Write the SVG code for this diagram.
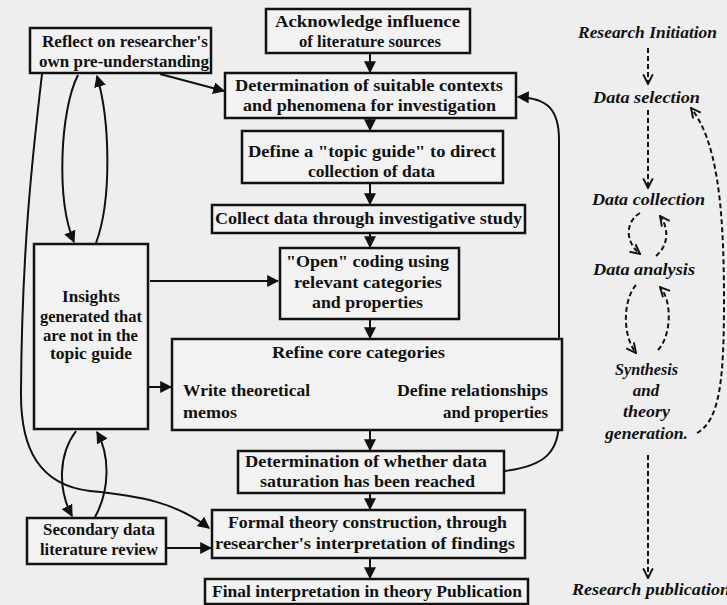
<svg xmlns="http://www.w3.org/2000/svg" width="727" height="605" viewBox="0 0 727 605">
<style>
.bg{fill:#eeeeee}
.box{fill:#f2f2f2;stroke:#111;stroke-width:2.5}
.t{font-family:"Liberation Serif","Times New Roman",serif;font-size:17px;font-weight:bold;fill:#111;text-anchor:middle}
.r{font-family:"Liberation Serif","Times New Roman",serif;font-size:17px;font-weight:bold;font-style:italic;fill:#111;text-anchor:middle}
.ln{fill:none;stroke:#111;stroke-width:2}
.dl{fill:none;stroke:#111;stroke-width:2;stroke-dasharray:5,3}
</style>
<defs>
<marker id="a" viewBox="0 0 10 10" refX="9" refY="5" markerWidth="6" markerHeight="6" orient="auto" markerUnits="strokeWidth">
<path d="M0,0 L10,5 L0,10 z" fill="#111"/>
</marker>
<marker id="as" viewBox="0 0 10 10" refX="1" refY="5" markerWidth="6" markerHeight="6" orient="auto-start-reverse" markerUnits="strokeWidth">
<path d="M0,0 L10,5 L0,10 z" fill="#111"/>
</marker>
<marker id="c" viewBox="0 0 10 10" refX="9" refY="5" markerWidth="6" markerHeight="6" orient="auto" markerUnits="strokeWidth">
<path d="M1,1 L9,5 L1,9" fill="none" stroke="#111" stroke-width="1.6"/>
</marker>
</defs>
<rect class="bg" x="0" y="0" width="727" height="605"/>

<g id="connectors">
<path class="ln" d="M370,53 L370,72" marker-end="url(#a)"/>
<path class="ln" d="M370,118 L370,130" marker-end="url(#a)"/>
<path class="ln" d="M370,183 L370,204" marker-end="url(#a)"/>
<path class="ln" d="M370,233 L370,247" marker-end="url(#a)"/>
<path class="ln" d="M370,319 L370,338" marker-end="url(#a)"/>
<path class="ln" d="M370,430 L370,450" marker-end="url(#a)"/>
<path class="ln" d="M370,493 L370,509" marker-end="url(#a)"/>
<path class="ln" d="M370,558 L370,578" marker-end="url(#a)"/>
<path class="ln" d="M160,74 L224,91" marker-end="url(#a)"/>
<path class="ln" d="M42,74 C32,160 22,250 21,390 C20,450 40,485 90,491 C140,496 175,502 209,528" marker-end="url(#a)"/>
<path class="ln" d="M78,75 C60,110 56,200 74,242" marker-end="url(#a)"/>
<path class="ln" d="M96,243 C112,200 110,120 97,76" marker-end="url(#a)"/>
<path class="ln" d="M76,431 C58,455 58,490 72,516" marker-end="url(#a)"/>
<path class="ln" d="M95,517 C110,490 110,455 97,432" marker-end="url(#a)"/>
<path class="ln" d="M150,281 L278,281" marker-end="url(#a)"/>
<path class="ln" d="M149,387 L171,387" marker-end="url(#a)"/>
<path class="ln" d="M166,548 L211,548" marker-end="url(#a)"/>
<path class="ln" d="M505,471 C545,466 559,452 559,420 L559,140 C559,110 548,98 518,97" marker-end="url(#a)"/>
<path class="ln" d="M265,355 L218,382" marker-start="url(#as)" marker-end="url(#a)"/>
<path class="ln" d="M448,357 L495,383" marker-start="url(#as)" marker-end="url(#a)"/>
<path class="ln" d="M258,413 L433,413" marker-start="url(#as)" marker-end="url(#a)"/>
<path class="dl" d="M648,48 L648,84" marker-end="url(#c)"/>
<path class="dl" d="M648,110 L648,188" marker-end="url(#c)"/>
<path class="dl" d="M640,213 C625,222 625,242 640,254" marker-end="url(#c)"/>
<path class="dl" d="M656,256 C669,245 669,228 660,216" marker-end="url(#c)"/>
<path class="dl" d="M636,285 C623,300 622,335 636,353" marker-end="url(#c)"/>
<path class="dl" d="M658,350 C672,335 672,300 660,287" marker-end="url(#c)"/>
<path class="dl" d="M697,433 C720,420 724,380 724,300 C724,200 716,140 691,108" marker-end="url(#c)"/>
<path class="dl" d="M648,455 L648,578" marker-end="url(#c)"/>
</g>

<g id="reflect"><rect class="box" x="30" y="28" width="181" height="45"/>
<text class="t" x="125" y="47" textLength="166" lengthAdjust="spacingAndGlyphs">Reflect on researcher's</text>
<text class="t" x="124" y="67" textLength="170" lengthAdjust="spacingAndGlyphs">own pre-understanding</text></g>

<g id="acknowledge"><rect class="box" x="266" y="9" width="204" height="44"/>
<text class="t" x="367.5" y="27" textLength="185" lengthAdjust="spacingAndGlyphs">Acknowledge influence</text>
<text class="t" x="370" y="47" textLength="142" lengthAdjust="spacingAndGlyphs">of literature sources</text></g>

<g id="determination"><rect class="box" x="225" y="73" width="291" height="45"/>
<text class="t" x="369" y="91" textLength="268" lengthAdjust="spacingAndGlyphs">Determination of suitable contexts</text>
<text class="t" x="369.5" y="111" textLength="253" lengthAdjust="spacingAndGlyphs">and phenomena for investigation</text></g>

<g id="topicguide"><rect class="box" x="242" y="131" width="261" height="52"/>
<text class="t" x="372" y="157" textLength="248" lengthAdjust="spacingAndGlyphs">Define a "topic guide" to direct</text>
<text class="t" x="371.5" y="177" textLength="127" lengthAdjust="spacingAndGlyphs">collection of data</text></g>

<g id="collect"><rect class="box" x="212" y="205" width="313" height="28"/>
<text class="t" x="368.5" y="224" textLength="307" lengthAdjust="spacingAndGlyphs">Collect data through investigative study</text></g>

<g id="opencoding"><rect class="box" x="280" y="248" width="179" height="71"/>
<text class="t" x="367.5" y="267" textLength="163" lengthAdjust="spacingAndGlyphs">"Open" coding using</text>
<text class="t" x="368" y="288" textLength="148" lengthAdjust="spacingAndGlyphs">relevant categories</text>
<text class="t" x="367.5" y="308" textLength="111" lengthAdjust="spacingAndGlyphs">and properties</text></g>

<g id="refine"><rect class="box" x="172" y="339" width="390" height="91"/>
<text class="t" x="358.5" y="358" textLength="173" lengthAdjust="spacingAndGlyphs">Refine core categories</text>
<text class="t" x="183" y="396" style="text-anchor:start" textLength="127" lengthAdjust="spacingAndGlyphs">Write theoretical</text>
<text class="t" x="183" y="418" style="text-anchor:start" textLength="54" lengthAdjust="spacingAndGlyphs">memos</text>
<text class="t" x="548" y="396" style="text-anchor:end" textLength="151" lengthAdjust="spacingAndGlyphs">Define relationships</text>
<text class="t" x="548" y="418" style="text-anchor:end" textLength="105" lengthAdjust="spacingAndGlyphs">and properties</text></g>

<g id="insights"><rect class="box" x="34" y="244" width="114" height="185"/>
<text class="t" x="91" y="302" textLength="58" lengthAdjust="spacingAndGlyphs">Insights</text>
<text class="t" x="91" y="322" textLength="102" lengthAdjust="spacingAndGlyphs">generated that</text>
<text class="t" x="90.5" y="341" textLength="95" lengthAdjust="spacingAndGlyphs">are not in the</text>
<text class="t" x="91" y="359" textLength="82" lengthAdjust="spacingAndGlyphs">topic guide</text></g>

<g id="saturation"><rect class="box" x="238" y="451" width="266" height="42"/>
<text class="t" x="366" y="467" textLength="242" lengthAdjust="spacingAndGlyphs">Determination of whether data</text>
<text class="t" x="367.5" y="487" textLength="215" lengthAdjust="spacingAndGlyphs">saturation has been reached</text></g>

<g id="secondary"><rect class="box" x="27" y="518" width="139" height="46"/>
<text class="t" x="99" y="535" textLength="112" lengthAdjust="spacingAndGlyphs">Secondary data</text>
<text class="t" x="99" y="555" textLength="118" lengthAdjust="spacingAndGlyphs">literature review</text></g>

<g id="formal"><rect class="box" x="212" y="510" width="313" height="48"/>
<text class="t" x="367.5" y="528" textLength="279" lengthAdjust="spacingAndGlyphs">Formal theory construction, through</text>
<text class="t" x="365" y="549" textLength="300" lengthAdjust="spacingAndGlyphs">researcher's interpretation of findings</text></g>

<g id="final"><rect class="box" x="205" y="579" width="323" height="25"/>
<text class="t" x="367" y="597" textLength="310" lengthAdjust="spacingAndGlyphs">Final interpretation in theory Publication</text></g>

<g id="stages">
<text class="r" x="647.5" y="38" textLength="139" lengthAdjust="spacingAndGlyphs">Research Initiation</text>
<text class="r" x="646.5" y="103" textLength="107" lengthAdjust="spacingAndGlyphs">Data selection</text>
<text class="r" x="648.5" y="205" textLength="113" lengthAdjust="spacingAndGlyphs">Data collection</text>
<text class="r" x="644" y="275" textLength="102" lengthAdjust="spacingAndGlyphs">Data analysis</text>
<text class="r" x="646.5" y="375" textLength="63" lengthAdjust="spacingAndGlyphs">Synthesis</text>
<text class="r" x="646" y="396">and</text>
<text class="r" x="646.5" y="417" textLength="47" lengthAdjust="spacingAndGlyphs">theory</text>
<text class="r" x="646.5" y="439" textLength="83" lengthAdjust="spacingAndGlyphs">generation.</text>
<text class="r" x="572" y="595" style="text-anchor:start" textLength="158" lengthAdjust="spacingAndGlyphs">Research publication</text>
</g>
</svg>
